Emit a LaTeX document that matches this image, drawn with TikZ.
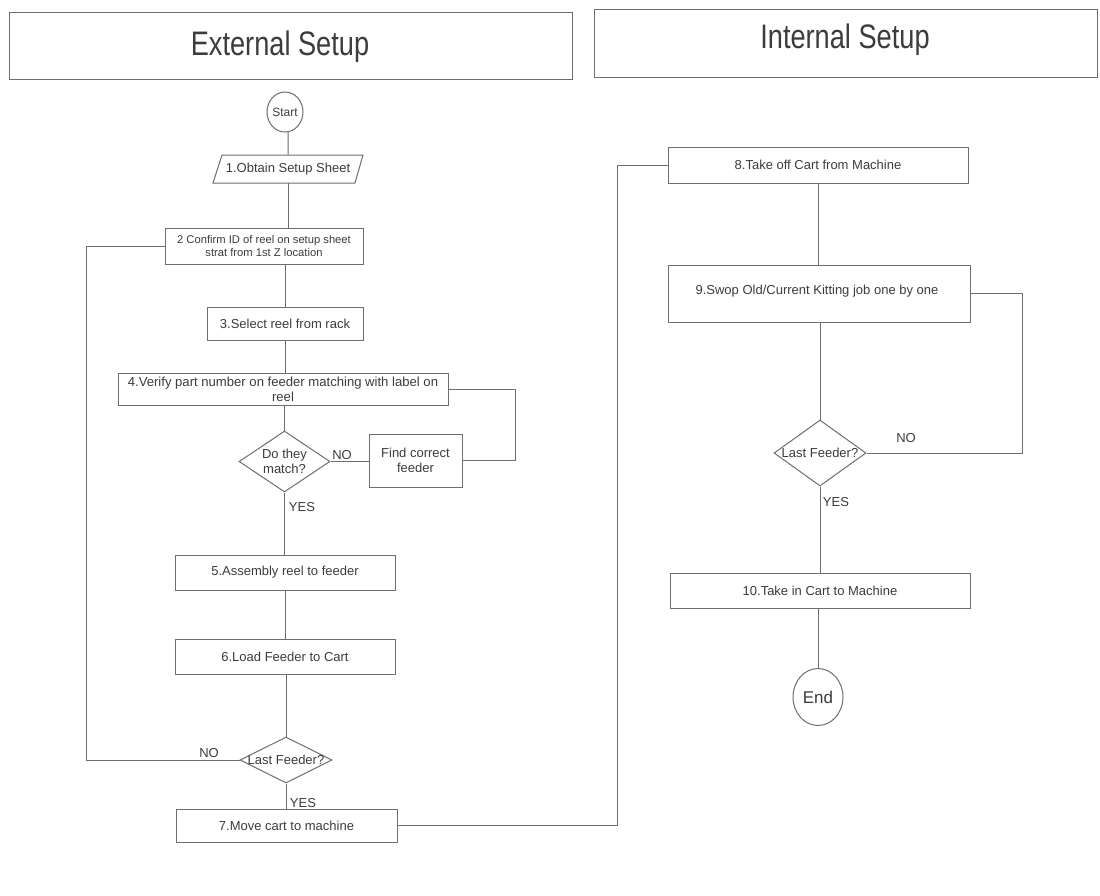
\documentclass[tikz,border=0pt]{standalone}
\usepackage{fontspec}
\setmainfont{Liberation Sans}
\newfontfamily\hdfont[FakeStretch=0.8]{Liberation Sans}
\usetikzlibrary{shapes.geometric}
\definecolor{ln}{HTML}{6E6E6E}
\definecolor{tx}{HTML}{3C3C3C}
\begin{document}
\begin{tikzpicture}[x=0.5pt,y=-0.5pt,
  every node/.style={text=tx},
  stepbox/.style={draw=ln, line width=0.5pt, rectangle, inner sep=0pt, align=center, font=\fontsize{6.5}{7.2}\selectfont},
  decision/.style={draw=ln, line width=0.5pt, diamond, inner sep=0pt},
  dtext/.style={align=center, inner sep=0pt, font=\fontsize{6.5}{7.2}\selectfont},
  term/.style={draw=ln, line width=0.5pt, ellipse, inner sep=0pt},
  header/.style={draw=ln, line width=0.5pt, rectangle, inner sep=0pt},
  htext/.style={inner sep=0pt, anchor=base, font=\hdfont\fontsize{17}{19}\selectfont},
  flow/.style={draw=ln, line width=0.5pt},
  lbl/.style={inner sep=0pt, font=\fontsize{6.5}{7.2}\selectfont}]
\fill[white] (0,0) rectangle (1100,896);
\useasboundingbox (0,0) rectangle (1100,896);

% headers
\node[header, minimum width=281.5pt, minimum height=33.5pt] (h1) at (290.5,45.5) {};
\node[htext] (h1t) at (280,55) {External Setup};
\node[header, minimum width=251.5pt, minimum height=34pt] (h2) at (845.5,43) {};
\node[htext] (h2t) at (845,48) {Internal Setup};

% left column
\node[term, minimum width=18pt, minimum height=20pt, font=\fontsize{6}{7}\selectfont] (start) at (285,112) {Start};
\node[inner sep=0pt, minimum height=14pt, minimum width=70pt, font=\fontsize{6.5}{7.2}\selectfont] (s1) at (288,169) {1.Obtain Setup Sheet};
\draw[flow] (s1) ++(-75,14) -- ++(142,0) -- ++(8,-28) -- ++(-141,0) -- cycle;
\node[stepbox, minimum width=99pt, minimum height=18pt, font=\fontsize{5.6}{6.6}\selectfont] (s2) at (264,246) {2 Confirm ID of reel on setup sheet\\strat from 1st Z location};
\node[stepbox, minimum width=78pt, minimum height=16.5pt] (s3) at (285,323.5) {3.Select reel from rack};
\node[stepbox, minimum width=165pt, minimum height=16pt, font=\fontsize{6.55}{7.4}\selectfont] (s4) at (283,389) {4.Verify part number on feeder matching with label on\\reel};
\node[decision, minimum width=45.5pt, minimum height=30.5pt] (d1) at (284.5,461.5) {};
\node[dtext] (d1t) at (d1) {Do they\\match?};
\node[stepbox, minimum width=46.5pt, minimum height=26.5pt] (find) at (415.5,460.5) {Find correct\\feeder};
\node[stepbox, minimum width=110pt, minimum height=17.5pt] (s5) at (285,572.5) {5.Assembly reel to feeder};
\node[stepbox, minimum width=110pt, minimum height=17.5pt] (s6) at (285,656.5) {6.Load Feeder to Cart};
\node[decision, minimum width=46pt, minimum height=23pt] (d2) at (286,760) {};
\node[dtext] (d2t) at (d2) {Last Feeder?};
\node[stepbox, minimum width=110.5pt, minimum height=16.5pt] (s7) at (286.5,825.5) {7.Move cart to machine};

% right column
\node[stepbox, minimum width=150pt, minimum height=18pt] (s8) at (818,165) {8.Take off Cart from Machine};
\node[stepbox, minimum width=151pt, minimum height=28.5pt] (s9) at (819,293.5) {};
\node[dtext] (s9t) at (817,291) {9.Swop Old/Current Kitting job one by one};
\node[decision, minimum width=46pt, minimum height=33pt] (d3) at (820,453) {};
\node[dtext] (d3t) at (d3) {Last Feeder?};
\node[stepbox, minimum width=150pt, minimum height=17.5pt] (s10) at (820,590.5) {10.Take in Cart to Machine};
\node[term, minimum width=25pt, minimum height=28.5pt, font=\fontsize{8.5}{10}\selectfont] (end) at (818,697) {End};

% bend coordinates
\coordinate (c1) at (515,0);
\coordinate (c2) at (86,0);
\coordinate (c3) at (617,0);
\coordinate (c4) at (1022,0);

% connectors left
\draw[flow] (start) -- (s1.north |- start.south) -- (s1.north);
\draw[flow] (s1.south) -- (s1.south |- s2.north);
\draw[flow] (s3.north |- s2.south) -- (s3.north);
\draw[flow] (s3.south) -- (s3.south |- s4.north);
\draw[flow] (d1.north |- s4.south) -- (d1.north);
\draw[flow] (d1.east) -- (d1.east -| find.west);
\draw[flow] (find.east) -- (find.east -| c1) |- (s4.east);
\draw[flow] (d1.south) -- (d1.south |- s5.north);
\draw[flow] (s5.south) -- (s6.north);
\draw[flow] (s6.south) -- (s6.south -| d2.north) -- (d2.north);
\draw[flow] (d2.south) -- (d2.south |- s7.north);
\draw[flow] (d2.west) -- (d2.west -| c2) |- (s2.west);
\draw[flow] (s7.east) -- (s7.east -| c3) |- (s8.west);

% connectors right
\draw[flow] (s8.south) -- (s8.south |- s9.north);
\draw[flow] (d3.north |- s9.south) -- (d3.north);
\draw[flow] (d3.east) -- (d3.east -| c4) |- (s9.east);
\draw[flow] (d3.south) -- (d3.south |- s10.north);
\draw[flow] (s10.south -| end.north) -- (end.north);

% labels
\node[lbl] (no1) at (342,455) {NO};
\node[lbl] (yes1) at (302,507) {YES};
\node[lbl] (no2) at (209,753) {NO};
\node[lbl] (yes2) at (303,803) {YES};
\node[lbl] (no3) at (906,438) {NO};
\node[lbl] (yes3) at (836,502) {YES};
\end{tikzpicture}
\end{document}
